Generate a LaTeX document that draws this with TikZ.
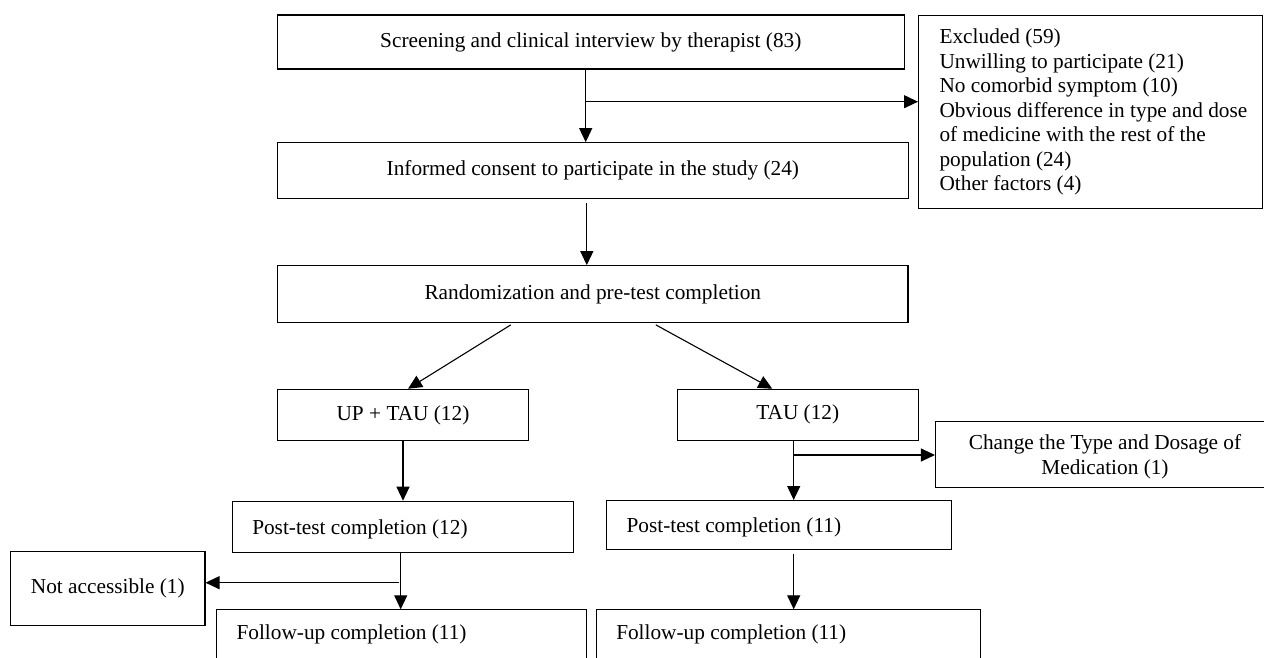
\documentclass[tikz,border=0pt]{standalone}
\usepackage{fontspec}
\setmainfont{Liberation Serif}
\usetikzlibrary{arrows.meta,calc}
\tikzset{
  line/.style={draw=black, line width=1.1pt},
  arr/.style={line, -{Triangle[length=14pt,width=13pt]}},
  box/.style={draw=black, line width=1.1pt, inner sep=0pt, font=\fontsize{21.3pt}{24.5pt}\selectfont,
    execute at begin node={\spaceskip=0pt\xspaceskip=0pt}},
  lbox/.style={box, align=left, inner xsep=20pt, anchor=north west}
}

\begin{document}
\begin{tikzpicture}[x=1pt,y=-1pt]
  \clip (0,0) rectangle (1264,657);
  \fill[white] (0,0) rectangle (1264,657);

  \node[box, minimum width=627pt, minimum height=54pt] (screen) at (590.8,42) {Screening and clinical interview by therapist (83)};
  \node[box, minimum width=631pt, minimum height=55.6pt] (consent) at (592.8,170.5) {Informed consent to participate in the study (24)};
  \node[box, align=left, anchor=north west, inner xsep=21pt, inner ysep=13.5pt, text width=302pt] (excl) at (918,15)
    {Excluded (59)\\ Unwilling to participate (21)\\ No comorbid symptom (10)\\ \mbox{Obvious difference in type and dose}\\ of medicine with the rest of the\\ population (24)\\ Other factors (4)};
  \node[box, minimum width=630.3pt, minimum height=56.6pt] (rand) at (592.8,294) {Randomization and pre-test completion};

  \node[box, minimum width=250.6pt, minimum height=51.4pt] (uptau) at (403,415) {UP + TAU (12)};
  \node[box, minimum width=241pt, minimum height=51pt] (tau) at (797.8,414.8) {TAU (12)};
  \node[box, align=center, anchor=north, minimum width=339pt, inner ysep=13pt, text depth=0pt] (change) at (1105,421) {Change the Type and Dosage of\\ Medication (1)};

  \node[lbox, text width=301pt, minimum height=51pt, text depth=0pt] (post1) at (231.7,500.7) {Post-test completion (12)};
  \node[lbox, text width=304.7pt, minimum height=49pt, text depth=0pt] (post2) at (606,500) {Post-test completion (11)};
  \node[box, minimum width=194.3pt, minimum height=74.3pt] (na) at (107.8,588.2) {Not accessible (1)};

  \node[lbox, text width=329.7pt, inner ysep=15pt, text height=15pt, text depth=12pt] (fu1) at (216,609.3) {Follow-up completion (11)};
  \node[lbox, text width=344.3pt, inner ysep=15pt, text height=15pt, text depth=12pt] (fu2) at (595.7,609.3) {Follow-up completion (11)};

  \coordinate (j1) at (585.7,101.7);
  \coordinate (j2) at (793.7,455);
  \coordinate (j3) at (400.7,582.7);

  \draw[arr] (j1 |- screen.south) -- (j1 |- consent.north);
  \draw[arr] (j1) -- (j1 -| excl.west);
  \draw[arr] ([xshift=-6pt,yshift=-4pt]consent.south) -- ([xshift=-6pt]consent.south |- rand.north);

  \draw[arr] ([xshift=-82pt,yshift=-2pt]rand.south) -- ([xshift=5pt]uptau.north);
  \draw[arr] ([xshift=63pt,yshift=-2pt]rand.south) -- ([xshift=-25.5pt]tau.north);

  \draw[arr] (uptau.south) -- (uptau.south |- post1.north);
  \draw[arr] (j2 |- tau.south) -- (j2 |- post2.north);
  \draw[arr] (j2) -- (j2 -| change.west);

  \draw[arr] (j3 |- post1.south) -- (j3 |- fu1.north);
  \draw[arr] ([xshift=-1.7pt]j3) -- (j3 -| na.east);
  \draw[arr] ([yshift=-3.5pt]j2 |- post2.south) -- (j2 |- fu2.north);
\end{tikzpicture}
\end{document}
